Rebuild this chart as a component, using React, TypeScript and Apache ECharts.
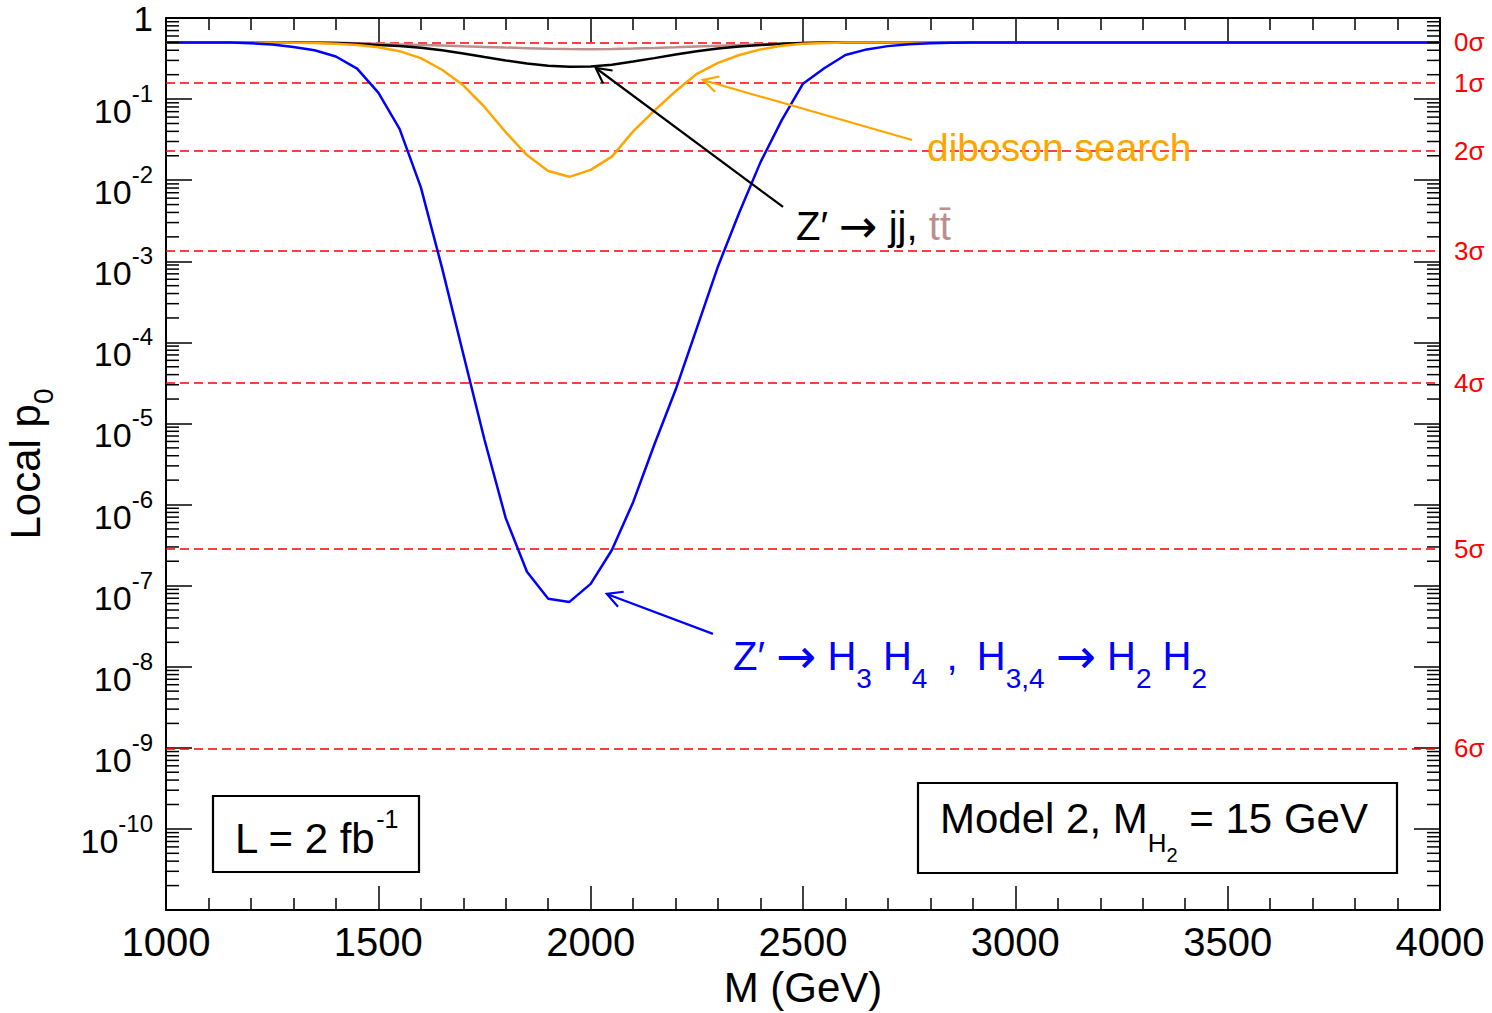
import React, { useEffect, useRef } from 'react';
import * as echarts from 'echarts';

const FONT = 'Liberation Sans, Arial, Helvetica, sans-serif';
const ARROW_FONT = 'DejaVu Sans, sans-serif';

// Mass points (GeV)
const massGeV = [1000, 1050, 1100, 1150, 1200, 1250, 1300, 1350, 1400, 1450, 1500, 1550, 1600, 1650, 1700, 1750, 1800, 1850, 1900, 1950, 2000, 2050, 2100, 2150, 2200, 2250, 2300, 2350, 2400, 2450, 2500, 2550, 2600, 2650, 2700, 2750, 2800, 2850, 2900, 2950, 3000, 3500, 4000];

// Z' -> H3 H4, H3,4 -> H2 H2 (blue)
const pHH = [0.5, 0.5, 0.5, 0.498, 0.488, 0.47, 0.44, 0.40, 0.335, 0.237, 0.12, 0.043, 0.0082, 8.3e-4, 7.2e-5, 6.3e-6, 6.8e-7, 1.48e-7, 6.9e-8, 6.3e-8, 1.05e-7, 2.75e-7, 1.07e-6, 5.5e-6, 2.6e-5, 1.5e-4, 8.7e-4, 4.0e-3, 0.0167, 0.055, 0.155, 0.24, 0.35, 0.41, 0.45, 0.475, 0.488, 0.495, 0.498, 0.5, 0.5, 0.5, 0.5];

// diboson search (orange)
const pDiboson = [0.5, 0.5, 0.5, 0.5, 0.5, 0.498, 0.495, 0.49, 0.48, 0.465, 0.435, 0.39, 0.32, 0.23, 0.148, 0.08, 0.039, 0.0204, 0.013, 0.011, 0.0134, 0.0195, 0.040, 0.072, 0.125, 0.205, 0.28, 0.35, 0.41, 0.455, 0.48, 0.49, 0.497, 0.5, 0.5, 0.5, 0.5, 0.5, 0.5, 0.5, 0.5, 0.5, 0.5];

// Z' -> jj (black)
const pJJ = [0.5, 0.5, 0.5, 0.5, 0.5, 0.5, 0.498, 0.495, 0.49, 0.48, 0.465, 0.45, 0.43, 0.40, 0.365, 0.33, 0.30, 0.275, 0.258, 0.25, 0.252, 0.265, 0.29, 0.32, 0.355, 0.39, 0.42, 0.445, 0.465, 0.48, 0.49, 0.497, 0.5, 0.5, 0.5, 0.5, 0.5, 0.5, 0.5, 0.5, 0.5, 0.5, 0.5];

// Z' -> tt (rosy brown)
const pTT = [0.5, 0.5, 0.5, 0.5, 0.5, 0.5, 0.5, 0.498, 0.495, 0.488, 0.48, 0.472, 0.465, 0.457, 0.448, 0.44, 0.432, 0.425, 0.418, 0.414, 0.413, 0.415, 0.42, 0.427, 0.435, 0.445, 0.455, 0.465, 0.475, 0.483, 0.49, 0.496, 0.5, 0.5, 0.5, 0.5, 0.5, 0.5, 0.5, 0.5, 0.5, 0.5, 0.5];

// Significance reference lines
const sigmaP = [0.5, 0.1587, 0.02275, 1.35e-3, 3.167e-5, 2.867e-7, 9.866e-10];
const sigmaLabels = ['0σ', '1σ', '2σ', '3σ', '4σ', '5σ', '6σ'];

// Log-axis minor tick decoration
const minorDecades = [-11, -10, -9, -8, -7, -6, -5, -4, -3, -2, -1];
const minorMultipliers = [2, 3, 4, 5, 6, 7, 8, 9];

// Annotation arrows in data coordinates: [mass, p0]
const arrowNotes = [
  { color: '#000000', tail: [2453, 4.68e-3], head: [2012, 0.2418] },
  { color: '#FFA500', tail: [2757, 0.0313], head: [2264, 0.172] },
  { color: '#0000FF', tail: [2288, 2.54e-8], head: [2038, 7.9e-8] },
];

const toPairs = (arr: number[]) => massGeV.map((m, i) => [m, arr[i]]);

export default function App() {
  const ref = useRef<HTMLDivElement>(null);
  useEffect(() => {
    const chart = echarts.init(ref.current!, null, { renderer: 'svg' });
    const minorVals: number[][] = [];
    minorDecades.forEach((e) => minorMultipliers.forEach((k) => minorVals.push([1000, k * Math.pow(10, e)])));

    const xAxisBase = {
      type: 'value',
      min: 1000,
      max: 4000,
      interval: 500,
      axisLine: { show: true, onZero: false, lineStyle: { color: '#000', width: 2 } },
      axisTick: { show: true, inside: true, length: 24, lineStyle: { color: '#000', width: 1.5 } },
      minorTick: { show: true, splitNumber: 5, length: 12, lineStyle: { color: '#000', width: 1.5 } },
      splitLine: { show: false },
      minorSplitLine: { show: false },
    };
    const yAxisBase = {
      type: 'log',
      logBase: 10,
      min: 1e-11,
      max: 1,
      interval: 1,
      splitNumber: 11,
      axisLine: { show: true, onZero: false, lineStyle: { color: '#000', width: 2 } },
      axisTick: { show: true, inside: true, length: 26, lineStyle: { color: '#000', width: 1.5 } },
      splitLine: { show: false },
    };

    chart.setOption({
      animation: false,
      backgroundColor: '#ffffff',
      grid: { left: 166, right: 52, top: 18, bottom: 103, containLabel: false, outerBoundsMode: 'none' },
      xAxis: [
        {
          ...xAxisBase,
          position: 'bottom',
          name: 'M (GeV)',
          nameLocation: 'middle',
          nameGap: 52,
          nameTextStyle: { fontSize: 42, fontFamily: FONT, color: '#000' },
          axisLabel: {
            show: true,
            margin: 12,
            fontSize: 40,
            fontFamily: FONT,
            color: '#000',
            formatter: (v: number) => String(v),
          },
        },
        { ...xAxisBase, position: 'top', axisLabel: { show: false } },
      ],
      yAxis: [
        {
          ...yAxisBase,
          position: 'left',
          name: '{b|Local p}{s|0}',
          nameLocation: 'middle',
          nameGap: 109,
          nameRotate: 90,
          nameTextStyle: {
            fontSize: 42,
            fontFamily: FONT,
            color: '#000',
            rich: {
              b: { fontSize: 42, fontFamily: FONT, color: '#000' },
              s: { fontSize: 28, fontFamily: FONT, color: '#000', padding: [36, 0, 0, 0] },
            },
          },
          axisLabel: {
            show: true,
            margin: 13,
            fontFamily: FONT,
            color: '#000',
            formatter: (v: number) => {
              const e = Math.round(Math.log10(v));
              if (e === 0) return '{one|1}';
              if (e <= -11) return '';
              return `{b|10}{s|${e}}`;
            },
            rich: {
              one: { fontSize: 35, fontFamily: FONT, color: '#000' },
              b: { fontSize: 34, fontFamily: FONT, color: '#000', padding: [24, 0, 0, 0] },
              s: { fontSize: 24, fontFamily: FONT, color: '#000', padding: [0, 0, 11, 0] },
            },
          },
        },
        { ...yAxisBase, position: 'right', axisLabel: { show: false } },
      ],
      series: [
        {
          name: 'tt',
          type: 'line',
          data: toPairs(pTT),
          showSymbol: false,
          lineStyle: { color: '#BC8F8F', width: 2.5 },
          itemStyle: { color: '#BC8F8F' },
          z: 3,
          markLine: {
            silent: true,
            z: 1,
            precision: 15,
            symbol: ['none', 'none'],
            animation: false,
            lineStyle: { color: '#FF0000', type: [9, 5], width: 1.6 },
            label: {
              show: true,
              position: 'end',
              distance: 14,
              formatter: '{b}',
              color: '#FF0000',
              fontSize: 26,
              fontFamily: FONT,
            },
            emphasis: { disabled: true },
            data: sigmaP.map((p, i) => ({ yAxis: p, name: sigmaLabels[i] })),
          },
        },
        {
          name: 'jj',
          type: 'line',
          data: toPairs(pJJ),
          showSymbol: false,
          lineStyle: { color: '#000000', width: 2.5 },
          itemStyle: { color: '#000000' },
          z: 4,
        },
        {
          name: 'diboson',
          type: 'line',
          data: toPairs(pDiboson),
          showSymbol: false,
          lineStyle: { color: '#FFA500', width: 2.5 },
          itemStyle: { color: '#FFA500' },
          z: 5,
        },
        {
          name: 'H3H4',
          type: 'line',
          data: toPairs(pHH),
          showSymbol: false,
          lineStyle: { color: '#0000FF', width: 2.5 },
          itemStyle: { color: '#0000FF' },
          z: 6,
        },
        {
          name: 'minorTicks',
          type: 'custom',
          data: minorVals,
          silent: true,
          z: 7,
          renderItem: (params: any, api: any) => {
            const p = api.coord([1000, api.value(1)]);
            const cs = params.coordSys;
            const st = { stroke: '#000', lineWidth: 1.5 };
            return {
              type: 'group',
              children: [
                { type: 'line', shape: { x1: cs.x, y1: p[1], x2: cs.x + 13, y2: p[1] }, style: st },
                { type: 'line', shape: { x1: cs.x + cs.width - 13, y1: p[1], x2: cs.x + cs.width, y2: p[1] }, style: st },
              ],
            };
          },
        },
      ],
    });

    const px = (d: number[]) => chart.convertToPixel({ xAxisIndex: 0, yAxisIndex: 0 }, d) as number[];
    const graphics: any[] = [];
    arrowNotes.forEach((a) => {
      const t = px(a.tail);
      const h = px(a.head);
      const dx = t[0] - h[0];
      const dy = t[1] - h[1];
      const len = Math.sqrt(dx * dx + dy * dy);
      const ux = dx / len;
      const uy = dy / len;
      const ang = (28 * Math.PI) / 180;
      const L = 17;
      const w1 = [h[0] + L * (ux * Math.cos(ang) - uy * Math.sin(ang)), h[1] + L * (ux * Math.sin(ang) + uy * Math.cos(ang))];
      const w2 = [h[0] + L * (ux * Math.cos(-ang) - uy * Math.sin(-ang)), h[1] + L * (ux * Math.sin(-ang) + uy * Math.cos(-ang))];
      graphics.push({
        type: 'line',
        z: 20,
        shape: { x1: t[0], y1: t[1], x2: h[0], y2: h[1] },
        style: { stroke: a.color, lineWidth: 2.2 },
      });
      graphics.push({
        type: 'polyline',
        z: 20,
        shape: { points: [w1, h, w2] },
        style: { stroke: a.color, lineWidth: 2.2, fill: 'none' },
      });
    });

    const txt = (x: number, y: number, text: string, fill: string, rich: any, fontSize = 40) => ({
      type: 'text',
      z: 21,
      x,
      y,
      style: {
        text,
        fill,
        fontSize,
        fontFamily: FONT,
        align: 'left',
        verticalAlign: 'middle',
        textAlign: 'left',
        textVerticalAlign: 'middle',
        rich,
      },
    });

    graphics.push(txt(927, 147, 'diboson search', '#FFA500', undefined, 39));
    graphics.push(
      txt(796, 226, '{k|Z′ }{a|→}{k| jj, }{t|tt\u0304}', '#000', {
        k: { fontSize: 40, fontFamily: FONT, fill: '#000', color: '#000' },
        a: { fontSize: 46, fontFamily: ARROW_FONT, fill: '#000', color: '#000' },
        t: { fontSize: 40, fontFamily: FONT, fill: '#BC8F8F', color: '#BC8F8F' },
      })
    );
    const blueRich = {
      b: { fontSize: 40, fontFamily: FONT, fill: '#0000FF', color: '#0000FF' },
      a: { fontSize: 48, fontFamily: ARROW_FONT, fill: '#0000FF', color: '#0000FF' },
      s: { fontSize: 28, fontFamily: FONT, fill: '#0000FF', color: '#0000FF', padding: [44, 0, 0, 0] },
    };
    graphics.push(
      txt(733, 656, '{b|Z′ }{a|→}{b| H}{s|3}{b| H}{s|4}{b| \u2009, \u2009H}{s|3,4}{b| }{a|→}{b| H}{s|2}{b| H}{s|2}', '#0000FF', blueRich)
    );

    // Boxes
    graphics.push({
      type: 'rect',
      z: 20,
      shape: { x: 213, y: 796, width: 206, height: 76 },
      style: { fill: 'none', stroke: '#000', lineWidth: 2.2 },
    });
    graphics.push(
      txt(235, 838, '{b|L = 2 fb}{p|-1}', '#000', {
        b: { fontSize: 42, fontFamily: FONT, fill: '#000', color: '#000' },
        p: { fontSize: 25, fontFamily: FONT, fill: '#000', color: '#000', padding: [0, 0, 39, 0] },
      })
    );
    graphics.push({
      type: 'rect',
      z: 20,
      shape: { x: 918, y: 783, width: 479, height: 90 },
      style: { fill: 'none', stroke: '#000', lineWidth: 2.2 },
    });
    graphics.push(
      txt(940, 818, '{b|Model 2, M}{s1|H}{s2|2}{b| = 15 GeV}', '#000', {
        b: { fontSize: 42, fontFamily: FONT, fill: '#000', color: '#000' },
        s1: { fontSize: 26, fontFamily: FONT, fill: '#000', color: '#000', padding: [49, 0, 0, 0] },
        s2: { fontSize: 20, fontFamily: FONT, fill: '#000', color: '#000', padding: [74, 0, 0, 0] },
      })
    );

    chart.setOption({ graphic: graphics });
    return () => chart.dispose();
  }, []);
  return <div ref={ref} style={{ position: 'absolute', left: 0, top: 0, width: 1492, height: 1013 }} />;
}
